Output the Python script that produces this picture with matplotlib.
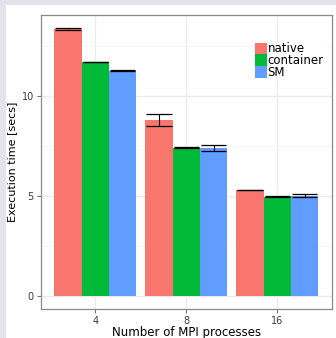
import matplotlib
matplotlib.use("Agg")
import matplotlib.pyplot as plt
import numpy as np
from matplotlib.patches import Rectangle

# data
procs = ["4", "8", "16"]
series = ["native", "container", "SM"]
colors = ["#F8766D", "#00BA38", "#619CFF"]
means = {
    "native":    [13.35, 8.80, 5.30],
    "container": [11.70, 7.42, 4.97],
    "SM":        [11.27, 7.40, 5.02],
}
errs = {
    "native":    [0.06, 0.28, 0.02],
    "container": [0.02, 0.02, 0.02],
    "SM":        [0.03, 0.15, 0.08],
}

W, H = 336, 338
fig = plt.figure(figsize=(W / 100, H / 100), dpi=100)
fig.patch.set_facecolor("#E3E3EC")
fig.patches.append(Rectangle((6 / W, 0), 1, 1 - 5 / H, transform=fig.transFigure,
                             facecolor="white", edgecolor="none", zorder=-10))

ax = fig.add_axes([40.7 / W, 1 - 309 / H, (332 - 40.7) / W, (309 - 14.7) / H])
ax.set_facecolor("white")

x = np.arange(1, len(procs) + 1)
bw = 0.3
for i, s in enumerate(series):
    pos = x + (i - 1) * bw
    ax.bar(pos, means[s], width=bw, color=colors[i], zorder=2, label=s)
    lo = np.array(means[s]) - np.array(errs[s])
    hi = np.array(means[s]) + np.array(errs[s])
    ax.vlines(pos, lo, hi, color="black", lw=0.8, zorder=3)
    ax.hlines(lo, pos - 0.14, pos + 0.14, color="black", lw=0.9, zorder=3)
    ax.hlines(hi, pos - 0.14, pos + 0.14, color="black", lw=0.9, zorder=3)

ax.set_xlim(0.4, 3.6)
ax.set_ylim(-0.65, 14.07)
ax.set_xticks(x)
ax.set_xticklabels(procs)
ax.set_yticks([0, 5, 10])
ax.set_yticks([2.5, 7.5, 12.5], minor=True)
ax.grid(True, which="major", color="#EBEBEB", lw=1.0, zorder=0)
ax.grid(True, which="minor", axis="y", color="#F5F5F5", lw=0.6, zorder=0)
ax.set_axisbelow(True)
ax.tick_params(which="major", length=3, width=0.6, color="#555555",
               labelsize=7, labelcolor="#3a3a3a", pad=2)
ax.tick_params(which="minor", length=0)
for sp in ax.spines.values():
    sp.set_color("#8a8a8a")
    sp.set_linewidth(0.9)

ax.set_xlabel("Number of MPI processes", fontsize=8.5, labelpad=0)
ax.set_ylabel("Execution time [secs]", fontsize=8, labelpad=3)

# legend drawn by hand so the keys touch like in ggplot
key_x, key_w, key_h, key_top = 254.7, 12.0, 11.7, 42.7
fig.patches.append(Rectangle((key_x / W, 1 - (key_top + 3 * key_h) / H), 70 / W, 3 * key_h / H,
                             transform=fig.transFigure, facecolor="white",
                             edgecolor="none", zorder=5))
for i, s in enumerate(series):
    top = key_top + i * key_h
    fig.patches.append(Rectangle((key_x / W, 1 - (top + key_h) / H), key_w / W, key_h / H,
                                 transform=fig.transFigure, facecolor=colors[i],
                                 edgecolor="none", zorder=6))
    fig.text((key_x + key_w + 0.8) / W, 1 - (top + key_h / 2 + 0.3) / H, s,
             fontsize=8.5, va="center", ha="left", zorder=7)

fig.savefig("out.png", dpi=100, facecolor=fig.get_facecolor())
